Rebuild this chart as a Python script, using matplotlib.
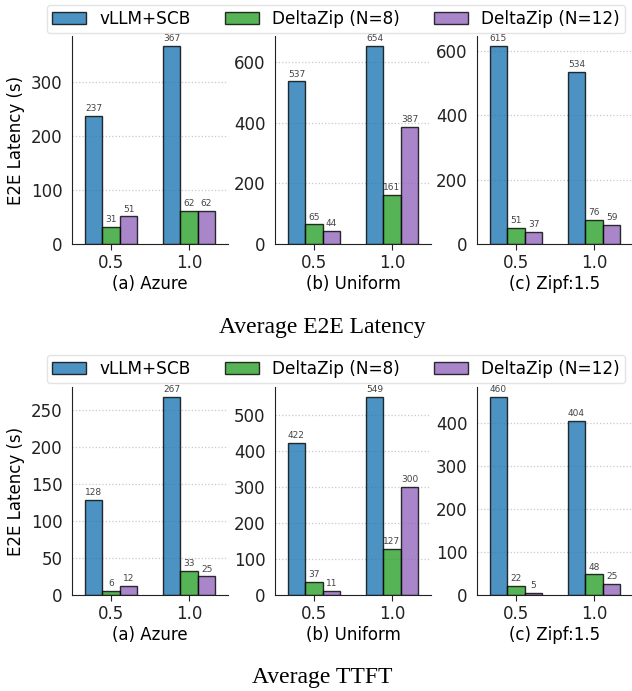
import numpy as np
import matplotlib
matplotlib.use("Agg")
import matplotlib.pyplot as plt

# workloads and arrival rates
workloads = ["(a) Azure", "(b) Uniform", "(c) Zipf:1.5"]
rates = ["0.5", "1.0"]
systems = ["vLLM+SCB", "DeltaZip (N=8)", "DeltaZip (N=12)"]
colors = ["tab:blue", "tab:green", "tab:purple"]

# average end-to-end latency (s), one list per workload: [vllm, n8, n12]
e2e_azure = [[237, 367], [31, 62], [51, 62]]
e2e_uniform = [[537, 654], [65, 161], [44, 387]]
e2e_zipf = [[615, 534], [51, 76], [37, 59]]

# average time to first token (s)
ttft_azure = [[128, 267], [6, 33], [12, 25]]
ttft_uniform = [[422, 549], [37, 127], [11, 300]]
ttft_zipf = [[460, 404], [22, 48], [5, 25]]

panels = [
    ("Average E2E Latency", [e2e_azure, e2e_uniform, e2e_zipf]),
    ("Average TTFT", [ttft_azure, ttft_uniform, ttft_zipf]),
]

plt.rcParams["font.family"] = "DejaVu Sans"
plt.rcParams["font.size"] = 12

W, H = 632, 691
fig = plt.figure(figsize=(W / 100, H / 100), dpi=100)

width = 0.225
x = np.arange(len(rates))
ax_left = [72, 275, 477]
ax_w = 156
ax_h = 208

for p, (caption, data) in enumerate(panels):
    top = 36 + p * 351
    handles = []
    for k, (name, vals) in enumerate(zip(workloads, data)):
        ax = fig.add_axes([ax_left[k] / W, (H - top - ax_h) / H, ax_w / W, ax_h / H])
        ax.set_axisbelow(True)
        ax.grid(axis="y", linestyle=":", color="#c8c8c8", linewidth=0.9)
        for i in range(3):
            bars = ax.bar(x + (i - 1) * width, vals[i], width, color=colors[i],
                          edgecolor="black", linewidth=1.0, alpha=0.8, label=systems[i])
            if k == 0:
                handles.append(bars)
            for b, v in zip(bars, vals[i]):
                ax.annotate(str(v), (b.get_x() + b.get_width() / 2, v),
                            xytext=(0, 2), textcoords="offset points",
                            ha="center", va="bottom", fontsize=6.5, color="#444444")
        ymax = max(max(v) for v in vals)
        ax.set_ylim(0, ymax * 1.05)
        ax.set_xlim(-0.5, 1.5)
        ax.set_xticks(x)
        ax.set_xticklabels(rates)
        ax.set_xlabel(name, labelpad=2)
        ax.spines["top"].set_visible(False)
        ax.spines["right"].set_visible(False)
        for s in ["left", "bottom"]:
            ax.spines[s].set_color("#222222")
        ax.tick_params(axis="y", length=0, pad=7, colors="#222222")
        ax.tick_params(axis="x", length=4, colors="#222222")
        if k == 0:
            ax.set_ylabel("E2E Latency (s)")

    fig.legend(handles, systems, ncol=3, loc="lower left",
               bbox_to_anchor=(47 / W, 1 - (33 + p * 350) / H),
               borderaxespad=0, borderpad=0.3, fontsize=12.2,
               edgecolor="#dddddd", fancybox=True)
    fig.text(322 / W, 1 - (327 + p * 350) / H, caption, ha="center", va="center",
             family="Liberation Serif", fontsize=17)

fig.savefig("out.png", dpi=100)
